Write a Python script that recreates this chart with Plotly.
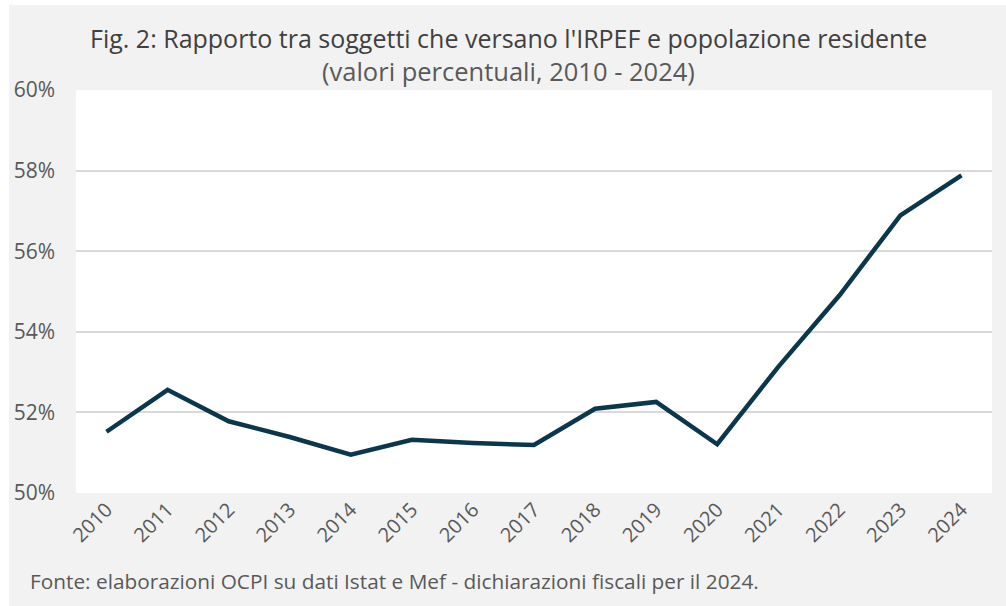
import plotly.graph_objects as go

years = [str(y) for y in range(2010, 2025)]
values = [51.52, 52.56, 51.78, 51.39, 50.95, 51.32, 51.24, 51.19, 52.09, 52.26,
          51.21, 53.13, 54.90, 56.89, 57.88]
y_ticks = [50, 52, 54, 56, 58, 60]
y_ticklabels = [f"{v}%" for v in y_ticks]

title = "Fig. 2: Rapporto tra soggetti che versano l'IRPEF e popolazione residente"
subtitle = "(valori percentuali, 2010 - 2024)"
source = "Fonte: elaborazioni OCPI su dati Istat e Mef - dichiarazioni fiscali per il 2024."

W, H = 1006, 606
L, R, T, B = 76, 14, 90, 113
pw, ph = W - L - R, H - T - B

def px(x):
    return (x - L) / pw

def py(y):
    return (H - B - y) / ph

FONT = "Open Sans"

fig = go.Figure()
fig.add_trace(go.Scatter(
    x=years, y=values, mode="lines",
    line=dict(color="#0b374d", width=4.5),
    hoverinfo="x+y", showlegend=False,
))

fig.update_layout(
    width=W, height=H,
    margin=dict(l=L, r=R, t=T, b=B),
    paper_bgcolor="#f2f2f2",
    plot_bgcolor="#ffffff",
    font=dict(family=FONT, color="#595959"),
    xaxis=dict(
        type="category", tickangle=-45, showgrid=False, zeroline=False,
        showline=False, ticks="", tickfont=dict(size=20, color="#595959"),
        range=[-0.5, len(years) - 0.5],
    ),
    yaxis=dict(
        range=[50, 60], tickvals=y_ticks, ticktext=y_ticklabels,
        showgrid=True, gridcolor="#d9d9d9", gridwidth=1.5, zeroline=False,
        showline=False, ticks="", ticklabelstandoff=20,
        tickfont=dict(size=21, color="#595959"),
    ),
    annotations=[
        dict(text=title, x=px(508), y=py(38), xref="paper", yref="paper",
             xanchor="center", yanchor="middle", showarrow=False,
             font=dict(family=FONT, size=25, color="#404040")),
        dict(text=subtitle, x=px(508), y=py(71), xref="paper", yref="paper",
             xanchor="center", yanchor="middle", showarrow=False,
             font=dict(family=FONT, size=25.5, color="#595959")),
        dict(text=source, x=px(28), y=py(581), xref="paper", yref="paper",
             xanchor="left", yanchor="middle", showarrow=False,
             font=dict(family=FONT, size=20.8, color="#595959")),
    ],
    shapes=[
        dict(type="rect", xref="paper", yref="paper", x0=px(0), x1=px(9),
             y0=py(H), y1=py(0), fillcolor="white", line=dict(width=0), layer="below"),
        dict(type="rect", xref="paper", yref="paper", x0=px(0), x1=px(W),
             y0=py(5), y1=py(0), fillcolor="white", line=dict(width=0), layer="below"),
    ],
)

fig.write_html(
    "out.html",
    config={"displayModeBar": False},
    post_script="document.body.style.margin='0';document.body.style.padding='0';",
)
